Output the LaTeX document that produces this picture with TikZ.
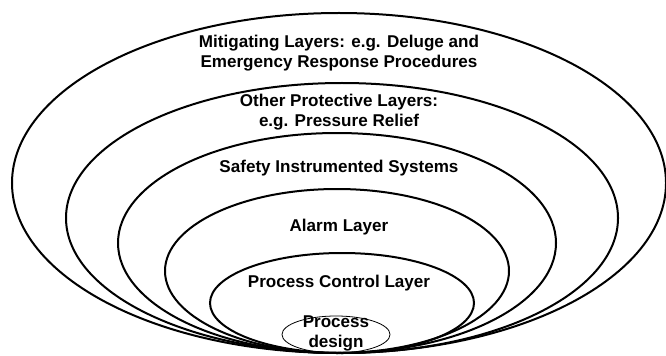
\documentclass[tikz,border=0pt]{standalone}
\usepackage{fontspec}
\setmainfont{Liberation Sans}
\begin{document}
\begin{tikzpicture}[x=0.75pt,y=0.75pt,yscale=-1,xscale=1,
  layer/.style={line width=1.5},
  lbl/.style={font=\bfseries\fontsize{12.8}{15}\selectfont, align=center, inner sep=0.75pt}]
\useasboundingbox (0,0) rectangle (666,356);

%Shape: Ellipse [mitigating]
\draw [layer] (339,183) ellipse (327 and 170);
%Shape: Ellipse [other protective]
\draw [layer] (342,218) ellipse (276 and 135);
%Shape: Ellipse [sis]
\draw [layer] (337,243) ellipse (219 and 110);
%Shape: Ellipse [alarm]
\draw [layer] (337,271) ellipse (172 and 82);
%Shape: Ellipse [process control]
\draw [layer] (342,303) ellipse (132 and 50);
%Shape: Ellipse [process design]
\draw [line width=0.6] (336,334.5) ellipse (54 and 18.5);

% Text Node
\node [lbl] (mitig) at (339,53) {Mitigating Layers: e.g. Deluge and\\Emergency Response Procedures};
% Text Node
\node [lbl] (other) at (339,112) {Other Protective Layers:\\e.g. Pressure Relief};
% Text Node
\node [lbl] (sis) at (339,168) {Safety Instrumented Systems};
% Text Node
\node [lbl] (alarm) at (339,227) {Alarm Layer};
% Text Node
\node [lbl] (pcl) at (339,283) {Process Control Layer};
% Text Node
\node [lbl] (design) at (336,333) {Process\\design};
\end{tikzpicture}
\end{document}
